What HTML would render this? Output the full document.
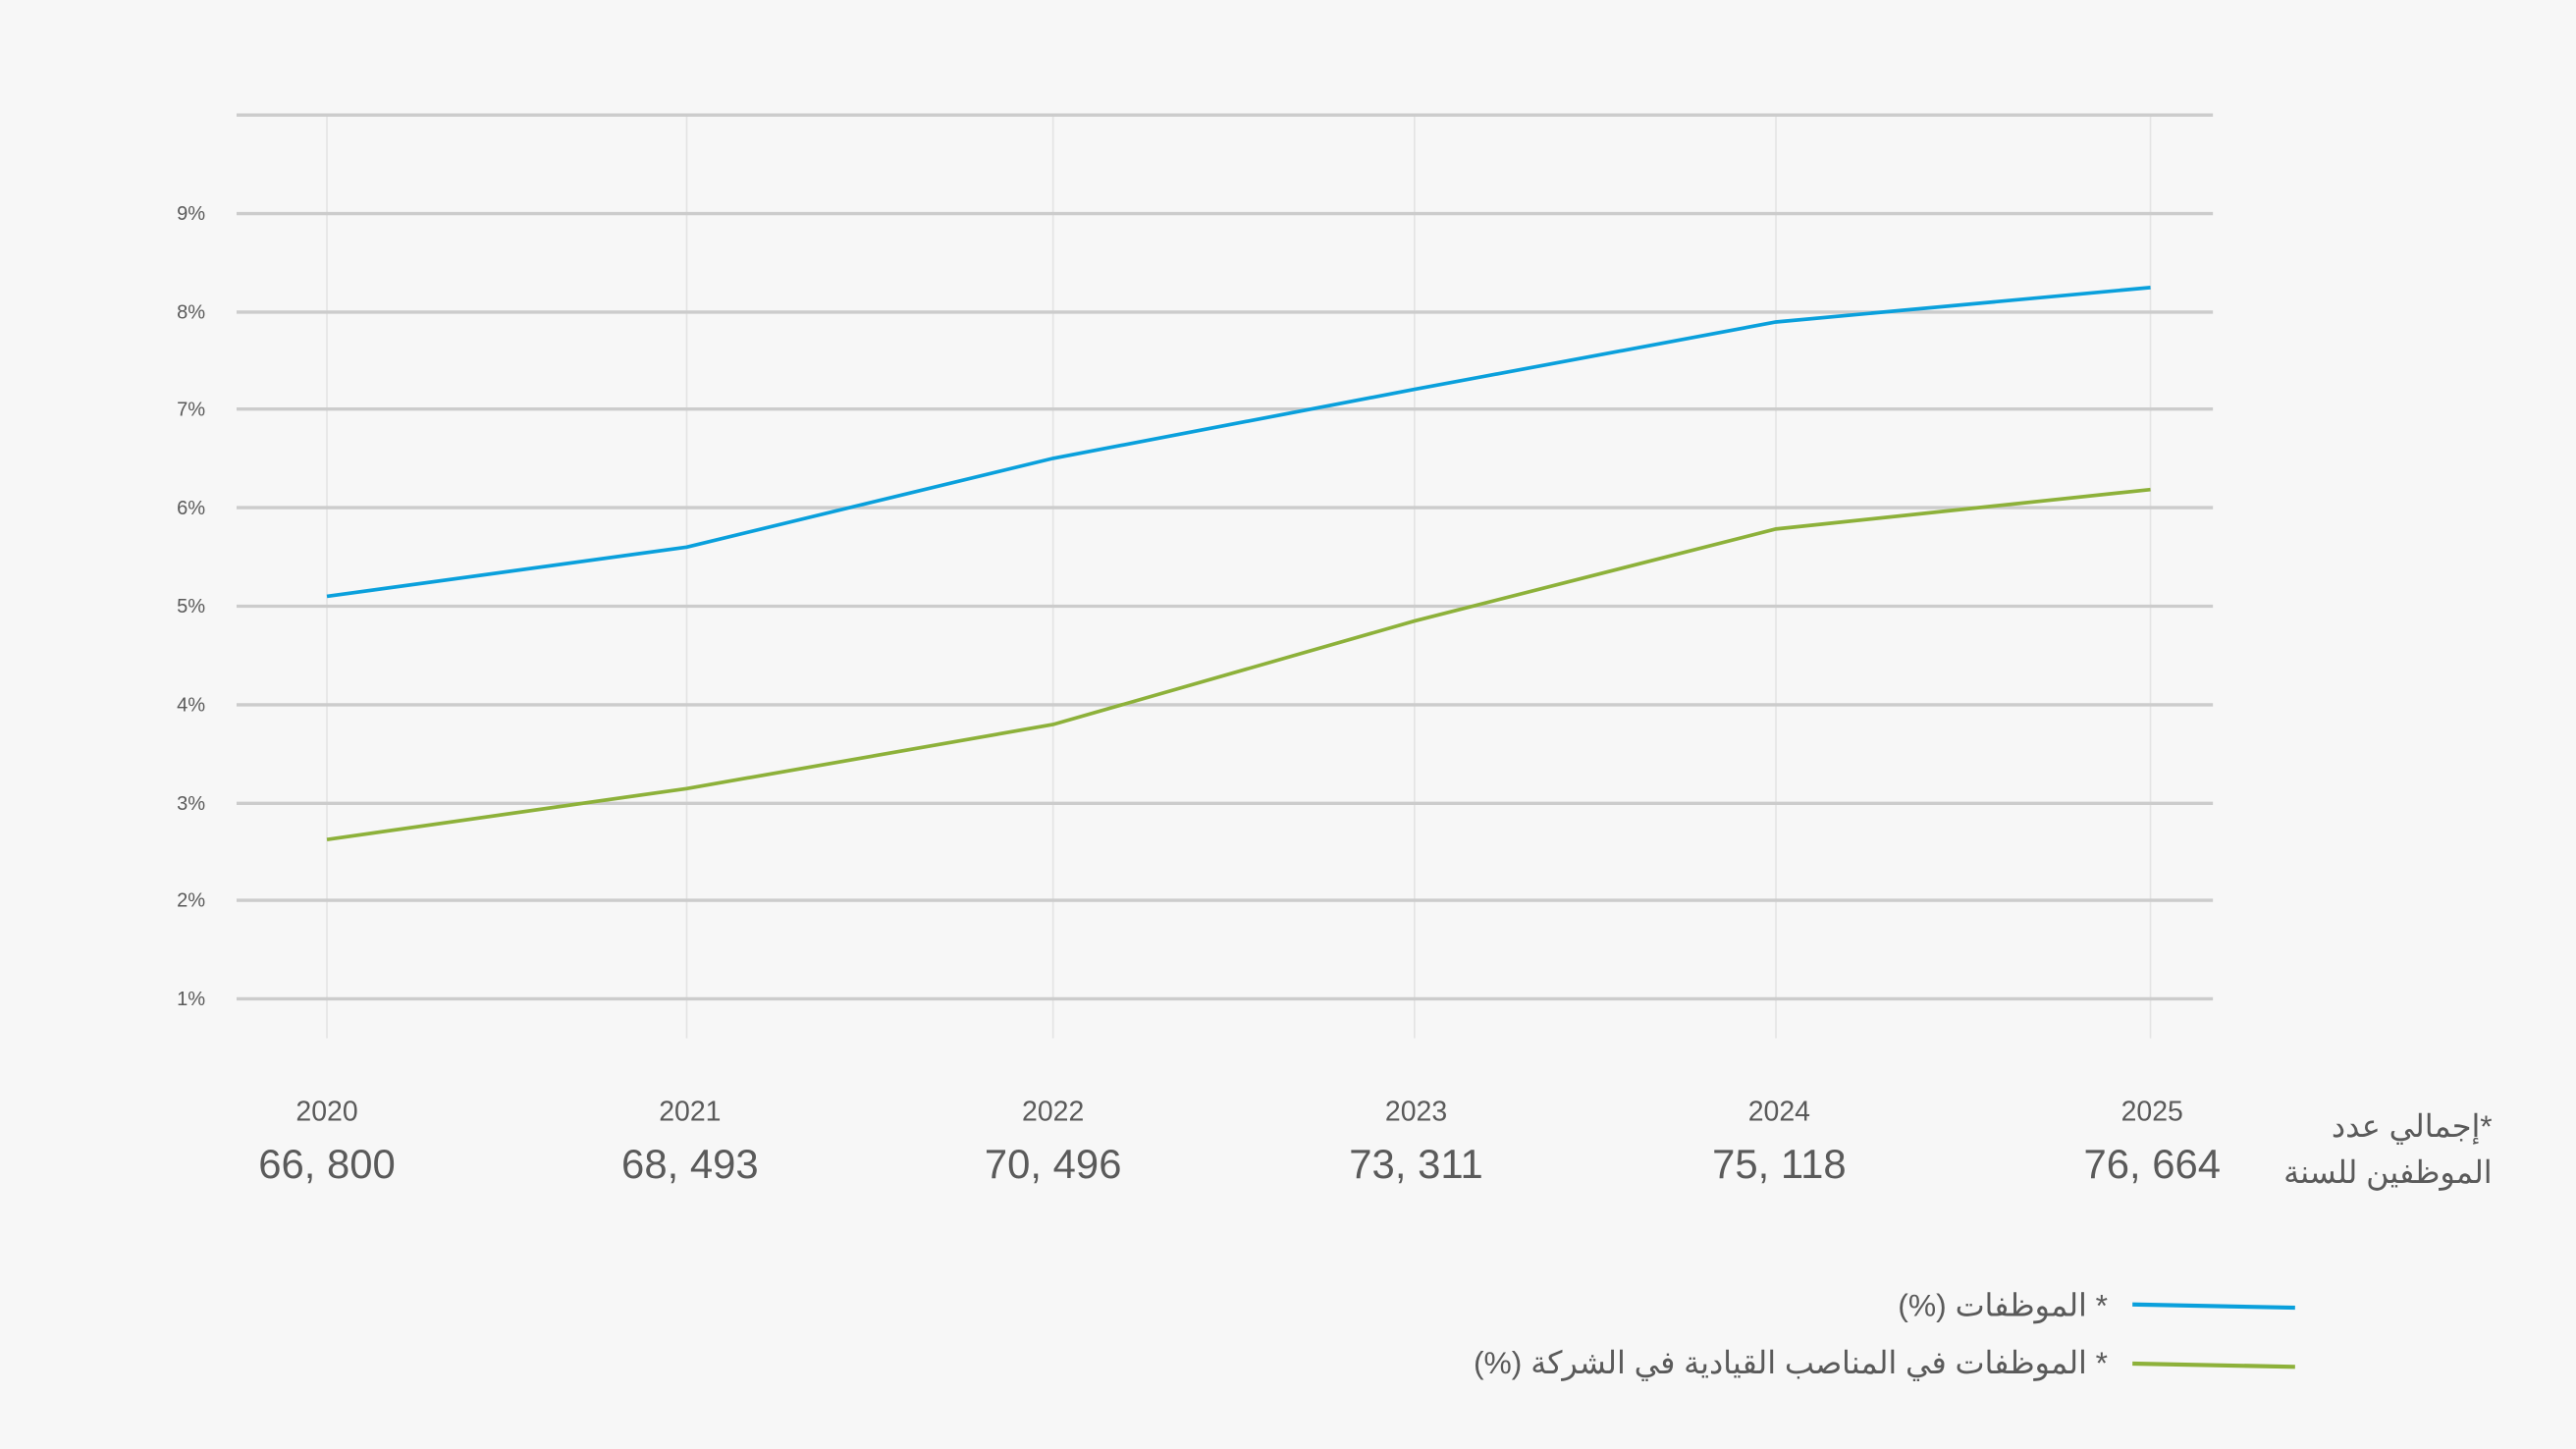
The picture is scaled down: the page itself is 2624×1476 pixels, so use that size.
<!DOCTYPE html>
<html><head><meta charset="utf-8"><style>
html,body{margin:0;padding:0;background:#f7f7f7;}
svg{display:block}
text{font-family:"Liberation Sans","Noto Sans CJK SC",sans-serif;fill:#5a5a5a;}
</style></head><body>
<svg width="2624" height="1476" viewBox="0 0 1568 882" xmlns="http://www.w3.org/2000/svg">
<rect width="1568" height="882" fill="#f7f7f7"/>
<g stroke="#e4e4e4" stroke-width="1">
<line x1="199" y1="70" x2="199" y2="632"/><line x1="418" y1="70" x2="418" y2="632"/>
<line x1="641" y1="70" x2="641" y2="632"/><line x1="861" y1="70" x2="861" y2="632"/>
<line x1="1081" y1="70" x2="1081" y2="632"/><line x1="1309" y1="70" x2="1309" y2="632"/>
</g>
<g stroke="#cccccc" stroke-width="2">
<line x1="144" y1="70" x2="1347" y2="70"/><line x1="144" y1="130" x2="1347" y2="130"/>
<line x1="144" y1="190" x2="1347" y2="190"/><line x1="144" y1="249" x2="1347" y2="249"/>
<line x1="144" y1="309" x2="1347" y2="309"/><line x1="144" y1="369" x2="1347" y2="369"/>
<line x1="144" y1="429" x2="1347" y2="429"/><line x1="144" y1="489" x2="1347" y2="489"/>
<line x1="144" y1="548" x2="1347" y2="548"/><line x1="144" y1="608" x2="1347" y2="608"/>
</g>
<g font-size="12" text-anchor="end">
<text x="125" y="134">9%</text><text x="125" y="194">8%</text><text x="125" y="253">7%</text>
<text x="125" y="313">6%</text><text x="125" y="373">5%</text><text x="125" y="433">4%</text>
<text x="125" y="493">3%</text><text x="125" y="552">2%</text><text x="125" y="612">1%</text>
</g>
<polyline fill="none" stroke="#0aa0dc" stroke-width="2.2" points="199,363 418,333 641,279 861,237 1081,196 1309,175"/>
<polyline fill="none" stroke="#8db13a" stroke-width="2.2" points="199,511 418,480 641,441 861,378 1081,322 1309,298"/>
<g text-anchor="middle">
<g font-size="17" style="fill:#666"><text x="199" y="682">2020</text><text x="420" y="682">2021</text><text x="641" y="682">2022</text><text x="862" y="682">2023</text><text x="1083" y="682">2024</text><text x="1310" y="682">2025</text></g>
<g font-size="25"><text x="199" y="717">66, 800</text><text x="420" y="717">68, 493</text><text x="641" y="717">70, 496</text><text x="862" y="717">73, 311</text><text x="1083" y="717">75, 118</text><text x="1310" y="717">76, 664</text></g>
</g>
<g font-size="19" text-anchor="start" direction="rtl">
<text x="1517" y="692">*إجمالي عدد</text>
<text x="1517" y="720">الموظفين للسنة</text>
<text x="1283" y="801">* الموظفات (%)</text>
<text x="1283" y="836">* الموظفات في المناصب القيادية في الشركة (%)</text>
</g>
<line x1="1298" y1="794" x2="1397" y2="796" stroke="#0aa0dc" stroke-width="2.5"/>
<line x1="1298" y1="830" x2="1397" y2="832" stroke="#8db13a" stroke-width="2.5"/>
</svg>
</body></html>
